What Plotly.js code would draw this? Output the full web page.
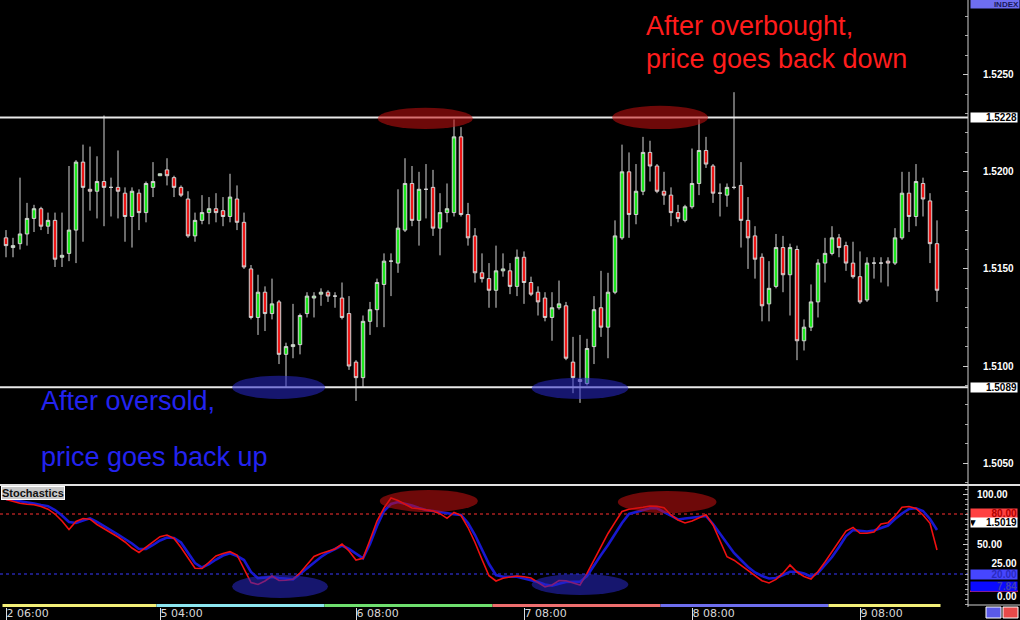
<!DOCTYPE html>
<html>
<head>
<meta charset="utf-8">
<script src="https://cdn.plot.ly/plotly-3.0.1.min.js"></script>
<style>
html,body{margin:0;padding:0;background:#000;}
#chart{width:1020px;height:620px;}
</style>
</head>
<body>
<div id="chart"></div>
<script>
// ---- Data (hourly candles, index 0 = "2 06:00") ----
const openP = [1.5166,1.5161,1.5163,1.5168,1.5176,1.5181,1.5172,1.5175,1.5156,1.5158,
1.5170,1.5205,1.5191,1.5190,1.5195,1.5192,1.5192,1.5189,1.5177,1.5189,
1.5179,1.5192,1.5198,1.5201,1.5197,1.5192,1.5186,1.5167,1.5175,1.5179,
1.5181,1.5180,1.5177,1.5186,1.5174,1.5150,1.5125,1.5138,1.5127,1.5133,
1.5106,1.5110,1.5111,1.5127,1.5135,1.5137,1.5138,1.5136,1.5135,1.5127,
1.5102,1.5094,1.5123,1.5129,1.5142,1.5154,1.5153,1.5170,1.5194,1.5175,
1.5191,1.5192,1.5171,1.5179,1.5179,1.5218,1.5178,1.5167,1.5148,1.5145,
1.5139,1.5149,1.5149,1.5141,1.5156,1.5143,1.5138,1.5135,1.5125,1.5130,
1.5131,1.5102,1.5093,1.5091,1.5110,1.5130,1.5120,1.5138,1.5166,1.5200,
1.5178,1.5190,1.5210,1.5203,1.5190,1.5188,1.5179,1.5175,1.5182,1.5194,
1.5211,1.5203,1.5189,1.5188,1.5192,1.5193,1.5175,1.5167,1.5156,1.5132,
1.5141,1.5161,1.5147,1.5160,1.5113,1.5120,1.5133,1.5153,1.5158,1.5166,
1.5162,1.5153,1.5146,1.5134,1.5153,1.5153,1.5154,1.5153,1.5166,1.5189,
1.5177,1.5194,1.5185,1.5163];
const highP = [1.5170,1.5166,1.5197,1.5184,1.5183,1.5182,1.5179,1.5179,1.5179,1.5203,
1.5206,1.5214,1.5213,1.5208,1.5229,1.5197,1.5211,1.5192,1.5192,1.5191,
1.5195,1.5205,1.5199,1.5207,1.5198,1.5193,1.5190,1.5179,1.5188,1.5187,
1.5189,1.5187,1.5199,1.5193,1.5179,1.5152,1.5147,1.5141,1.5145,1.5134,
1.5112,1.5132,1.5127,1.5138,1.5138,1.5140,1.5139,1.5138,1.5143,1.5136,
1.5103,1.5126,1.5133,1.5145,1.5158,1.5158,1.5191,1.5207,1.5203,1.5200,
1.5204,1.5201,1.5189,1.5194,1.5227,1.5223,1.5184,1.5171,1.5158,1.5153,
1.5162,1.5158,1.5153,1.5160,1.5159,1.5146,1.5141,1.5138,1.5138,1.5144,
1.5133,1.5115,1.5116,1.5114,1.5136,1.5149,1.5148,1.5175,1.5214,1.5210,
1.5204,1.5218,1.5216,1.5204,1.5200,1.5192,1.5183,1.5183,1.5212,1.5227,
1.5218,1.5204,1.5194,1.5194,1.5241,1.5205,1.5187,1.5172,1.5158,1.5154,
1.5168,1.5167,1.5163,1.5162,1.5124,1.5142,1.5155,1.5166,1.5172,1.5168,
1.5164,1.5164,1.5159,1.5156,1.5156,1.5156,1.5156,1.5171,1.5200,1.5200,
1.5204,1.5197,1.5189,1.5175];
const lowP = [1.5156,1.5156,1.5160,1.5162,1.5169,1.5170,1.5168,1.5151,1.5151,1.5154,
1.5153,1.5164,1.5180,1.5176,1.5172,1.5177,1.5176,1.5164,1.5161,1.5170,
1.5174,1.5187,1.5198,1.5193,1.5187,1.5187,1.5166,1.5164,1.5173,1.5173,
1.5174,1.5172,1.5174,1.5170,1.5150,1.5124,1.5116,1.5118,1.5124,1.5101,
1.5089,1.5104,1.5106,1.5125,1.5125,1.5131,1.5133,1.5130,1.5124,1.5098,
1.5082,1.5089,1.5116,1.5120,1.5120,1.5136,1.5148,1.5169,1.5172,1.5162,
1.5176,1.5167,1.5157,1.5174,1.5177,1.5177,1.5162,1.5143,1.5143,1.5130,
1.5130,1.5146,1.5137,1.5136,1.5132,1.5136,1.5126,1.5123,1.5113,1.5129,
1.5103,1.5086,1.5081,1.5090,1.5101,1.5115,1.5104,1.5137,1.5165,1.5166,
1.5173,1.5188,1.5195,1.5189,1.5183,1.5172,1.5174,1.5174,1.5181,1.5188,
1.5202,1.5184,1.5177,1.5182,1.5191,1.5161,1.5150,1.5145,1.5123,1.5123,
1.5140,1.5138,1.5126,1.5103,1.5108,1.5118,1.5125,1.5143,1.5157,1.5156,
1.5149,1.5145,1.5132,1.5133,1.5145,1.5143,1.5141,1.5152,1.5165,1.5169,
1.5172,1.5177,1.5153,1.5133];
const closeP = [1.5162,1.5162,1.5168,1.5176,1.5181,1.5172,1.5175,1.5155,1.5157,1.5170,
1.5205,1.5192,1.5190,1.5195,1.5192,1.5192,1.5190,1.5177,1.5190,1.5179,
1.5194,1.5195,1.5199,1.5198,1.5192,1.5188,1.5167,1.5175,1.5179,1.5181,
1.5179,1.5177,1.5187,1.5174,1.5151,1.5125,1.5138,1.5127,1.5132,1.5106,
1.5110,1.5111,1.5126,1.5136,1.5136,1.5138,1.5136,1.5136,1.5125,1.5100,
1.5094,1.5123,1.5129,1.5143,1.5154,1.5154,1.5171,1.5194,1.5175,1.5191,
1.5191,1.5171,1.5179,1.5181,1.5218,1.5178,1.5166,1.5148,1.5145,1.5139,
1.5149,1.5150,1.5141,1.5156,1.5143,1.5137,1.5133,1.5125,1.5130,1.5132,
1.5104,1.5094,1.5092,1.5109,1.5129,1.5120,1.5138,1.5167,1.5200,1.5178,
1.5190,1.5210,1.5203,1.5190,1.5188,1.5179,1.5176,1.5182,1.5194,1.5211,
1.5204,1.5189,1.5189,1.5192,1.5192,1.5175,1.5166,1.5155,1.5131,1.5140,
1.5161,1.5147,1.5161,1.5113,1.5120,1.5133,1.5153,1.5158,1.5166,1.5161,
1.5153,1.5146,1.5133,1.5153,1.5153,1.5153,1.5153,1.5166,1.5189,1.5177,
1.5195,1.5186,1.5163,1.5139];
// Stochastics %K (red) and %D (blue)
const stochK = [94.5,92.5,90.8,89.7,89.2,87.5,84.8,80,73,64.5,
72.5,75.5,74.8,69.5,65.2,61.7,57,52,46,41.5,
46.5,52,57.3,59,55.5,46.5,36.5,25.7,25.5,31.5,
38,40.5,42.3,39,26,11.5,9.5,13,18,13.5,
13.8,14.7,21,29.5,37.6,40.5,42.6,45,50,43,
34,35.7,54,73,86,96,93.5,89.8,86,85.2,
84.1,83,80.3,75.7,81.5,78.5,66.5,51.5,34.5,18.3,
13,15.7,17,18,17.3,16,11.5,7,9,13.5,
13.3,11.5,9,20.7,34.5,47.8,60.5,71.7,82.5,84.8,
85.6,86.8,88,87.6,86.3,79,74,71,73,76.5,
79.3,69,53.5,37.3,33.8,28.5,23.8,18,13.3,11,
14.6,20.8,29,22,17.5,15,22.5,32,42,52,
63,66.5,60.7,60.7,62,70,71.3,78,86.7,87.5,
85.5,79,70.7,44];
const stochD = [95,94,93,92,90.5,89,87.8,84,78.5,72,
71,73.5,75.7,72,68,63.5,59.5,55,50.5,45,
45,49,53.5,56.5,56,51.5,41,31,26.5,30,
34.5,38.5,40.7,38,34,22,15.8,16.5,17,16,
15,14.7,20,25.7,30.5,37,41.5,45,48.5,45,
40,35.7,50,68,83,90,92,90.5,88.5,86,
84,83,81.8,80.7,79.8,79,71,59,44,30,
19,17.3,17.3,17.3,15.5,14,12,9.5,8.3,10.3,
12,12.3,12.3,18,29,39,49,60,71,80,
82,84,85.7,85.7,82,78,74.5,75.5,76.5,77.5,
78,70,60.7,51,41,34,27,21.5,18,15.5,
16,19,22.3,22.3,20.5,17.5,21,29,37,47,
58,64,63,62.5,63.5,66,68.5,75,80.5,85,
85.7,83,75,64];
// time axis ticks
const tickIdx  = [0, 22, 50, 74, 98, 122];
const tickText = ['2 06:00','5 04:00','6 08:00','7 08:00','8 08:00','9 08:00'];
// day colour strip
const dayStart  = [0, 22, 46, 70, 94, 118];
const dayColors = ['#f3ef78','#8ce6ef','#6fdf6f','#ee6e6e','#6e6eee','#f3ef78'];
// price axis
const priceTicks = [1.5050, 1.5100, 1.5150, 1.5200, 1.5250];
const levels = [1.5228, 1.5089];
const stochTicks = [100, 50];

// ---- geometry ----
const W = 1020, H = 620, ML = 0, MR = 52, MT = 0, MB = 13;
const PW = W - ML - MR, PH = H - MT - MB;
const px = v => v / PW;          // pixel x -> paper
const py = v => 1 - v / PH;      // pixel y -> paper
const idx = openP.map((_, i) => i);
const N = idx.length;

const traces = [
  {
    type: 'candlestick', x: idx, open: openP, high: highP, low: lowP, close: closeP,
    xaxis: 'x', yaxis: 'y', whiskerwidth: 0, hoverinfo: 'skip',
    increasing: {line: {color: '#d4d4d4', width: 1}, fillcolor: '#1fe81f'},
    decreasing: {line: {color: '#d4d4d4', width: 1}, fillcolor: '#ee1818'}
  },
  {type: 'scatter', mode: 'lines', x: idx, y: stochD, xaxis: 'x', yaxis: 'y2',
   line: {color: '#1818d0', width: 2.6}, hoverinfo: 'skip'},
  {type: 'scatter', mode: 'lines', x: idx, y: stochK, xaxis: 'x', yaxis: 'y2',
   line: {color: '#f01010', width: 1.6}, hoverinfo: 'skip'}
];

const shapes = [];
// day strip
dayStart.forEach((s, d) => {
  const e = d + 1 < dayStart.length ? dayStart[d + 1] : N;
  shapes.push({type: 'rect', xref: 'x', yref: 'y2', x0: s - 0.5, x1: e - 0.5, y0: -10, y1: -13,
               fillcolor: dayColors[d], line: {width: 0}, layer: 'above'});
});
// horizontal support / resistance lines
levels.forEach(l => shapes.push({type: 'line', xref: 'paper', yref: 'y', x0: 0, x1: 1, y0: l, y1: l,
  line: {color: '#e8e8e8', width: 2}}));
// stochastic levels
shapes.push({type: 'line', xref: 'paper', yref: 'y2', x0: 0, x1: 1, y0: 80, y1: 80,
  line: {color: '#ff3030', width: 1, dash: '3px,3px'}, layer: 'below'});
shapes.push({type: 'line', xref: 'paper', yref: 'y2', x0: 0, x1: 1, y0: 20, y1: 20,
  line: {color: '#3838ff', width: 1, dash: '3px,3px'}, layer: 'below'});
// panel separators / borders
shapes.push({type: 'line', xref: 'paper', yref: 'paper', x0: 0, x1: W / PW, y0: py(485), y1: py(485),
  line: {color: '#e0e0e0', width: 2}});
shapes.push({type: 'line', xref: 'paper', yref: 'paper', x0: px(968), x1: px(968), y0: py(0), y1: py(607),
  line: {color: '#cfcfcf', width: 1}});
shapes.push({type: 'line', xref: 'paper', yref: 'paper', x0: px(968), x1: W / PW, y0: py(605), y1: py(605),
  line: {color: '#cfcfcf', width: 1}});
// highlight ellipses
const ell = (x0, x1, y0, y1, yref, col) => shapes.push({type: 'circle', xref: 'x', yref: yref,
  x0: x0, x1: x1, y0: y0, y1: y1, fillcolor: col, opacity: 0.55, line: {width: 0}, layer: 'above'});
ell(53.1, 66.7, 1.5222, 1.5233, 'y', '#c81010');
ell(86.6, 100.3, 1.5222, 1.5234, 'y', '#c81010');
ell(32.3, 45.6, 1.5083, 1.5095, 'y', '#2828c8');
ell(75.1, 88.9, 1.5083, 1.5094, 'y', '#2828c8');
ell(53.4, 67.4, 82, 104, 'y2', '#c81010');
ell(87.4, 101.5, 81, 103, 'y2', '#c81010');
ell(32.3, 46.0, -4, 19, 'y2', '#2828c8');
ell(75.1, 88.9, -1, 20, 'y2', '#2828c8');
// small buttons bottom right
shapes.push({type: 'rect', xref: 'paper', yref: 'paper', x0: px(986), x1: px(1001), y0: py(607), y1: py(618),
  fillcolor: '#5a5ae8', line: {color: '#ffffff', width: 1}});
shapes.push({type: 'rect', xref: 'paper', yref: 'paper', x0: px(1003), x1: px(1018), y0: py(607), y1: py(618),
  fillcolor: '#e84a4a', line: {color: '#ffffff', width: 1}});

const fnt = (s, c, w) => ({family: 'Liberation Sans, Arial, sans-serif', size: s, color: c, weight: w || 'normal'});
const box = (txt, y, yref, bg, col) => ({xref: 'paper', yref: yref, x: px(970), y: y, xanchor: 'left', yanchor: 'middle',
  text: txt, showarrow: false, bgcolor: bg, width: 46, height: 9, align: 'right', borderpad: 0,
  font: fnt(10, col, 'bold')});
const note = (txt, x, y, col) => ({xref: 'paper', yref: 'paper', x: px(x), y: py(y), xanchor: 'left', yanchor: 'middle',
  align: 'left', text: txt, showarrow: false, font: fnt(27, col)});

const annotations = [
  note('After overbought,', 644, 26, '#ff1c1c'),
  note('price goes back down', 644, 59, '#ff1c1c'),
  note('After oversold,', 39, 401, '#2323f0'),
  note('price goes back up', 39, 457, '#2323f0'),
  {xref: 'paper', yref: 'paper', x: px(1), y: py(486), xanchor: 'left', yanchor: 'top', align: 'left',
   text: 'Stochastics', showarrow: false, bgcolor: '#c8c8c8', bordercolor: '#ffffff', borderwidth: 1, borderpad: 0,
   font: fnt(11, '#111111', 'bold')},
  {xref: 'paper', yref: 'paper', x: px(970), y: py(4), xanchor: 'left', yanchor: 'middle',
   text: 'INDEX', showarrow: false, bgcolor: '#6e6ef0', width: 48, height: 8, align: 'right', borderpad: 0,
   font: fnt(8, '#1a1a5a', 'bold')},
  box(levels[0].toFixed(4), levels[0], 'y', '#ffffff', '#000000'),
  box(levels[1].toFixed(4), levels[1], 'y', '#ffffff', '#000000'),
  box('25.00', 31, 'y2', 'rgba(0,0,0,0)', '#ffffff'),
  box('80.00', 81, 'y2', '#ff4040', '#b00000'),
  box('\u25BC&nbsp;&nbsp;&nbsp;1.5019', 72, 'y2', '#ffffff', '#000000'),
  box('20.00', 20, 'y2', '#4646ff', '#2a2ac0'),
  box('7.84', 8, 'y2', '#0a0aff', '#4040b0'),
  box('0.00', -2, 'y2', 'rgba(0,0,0,0)', '#ffffff')
];
shapes.push({type: 'rect', xref: 'paper', yref: 'y2', x0: px(970), x1: px(1018), y0: 2, y1: 3.5,
  fillcolor: '#ff3030', line: {width: 0}});

const layout = {
  width: W, height: H, margin: {l: ML, r: MR, t: MT, b: MB},
  paper_bgcolor: '#000000', plot_bgcolor: '#000000', showlegend: false, hovermode: false,
  xaxis: {
    anchor: 'y2', range: [-6 / 7, (968 - 6) / 7], rangeslider: {visible: false},
    showgrid: false, zeroline: false, showline: false,
    tickmode: 'array', tickvals: tickIdx, ticktext: tickText,
    ticks: 'outside', ticklen: 12, tickcolor: '#dddddd', tickwidth: 1,
    ticklabelposition: 'outside right', ticklabelstandoff: -4,
    tickfont: {family: 'DejaVu Sans, sans-serif', size: 11, color: '#d8d8d8'}
  },
  yaxis: {
    domain: [1 - 484 / PH, 1], anchor: 'x', side: 'right',
    range: [1.5100 - 118 * 0.0000515, 1.5100 + 366 * 0.0000515],
    showgrid: false, zeroline: false, showline: false,
    tickmode: 'array', tickvals: priceTicks, ticktext: priceTicks.map(v => v.toFixed(4)),
    ticks: 'inside', ticklen: 5, tickcolor: '#cccccc', ticklabelstandoff: 14,
    minor: {ticks: 'inside', ticklen: 3, tick0: 1.5, dtick: 0.001, tickcolor: '#aaaaaa'},
    tickfont: fnt(10, '#ffffff', 'bold')
  },
  yaxis2: {
    domain: [0, 120 / PH], anchor: 'x', side: 'right', range: [-13, 107],
    showgrid: false, zeroline: false, showline: false,
    tickmode: 'array', tickvals: stochTicks, ticktext: stochTicks.map(v => v.toFixed(2)),
    ticks: 'inside', ticklen: 5, tickcolor: '#cccccc', ticklabelstandoff: 8,
    minor: {ticks: 'inside', ticklen: 3, tick0: 0, dtick: 5, tickcolor: '#aaaaaa'},
    tickfont: fnt(10, '#ffffff', 'bold')
  },
  shapes: shapes,
  annotations: annotations
};

Plotly.newPlot('chart', traces, layout, {staticPlot: true, displayModeBar: false});
</script>
</body>
</html>
